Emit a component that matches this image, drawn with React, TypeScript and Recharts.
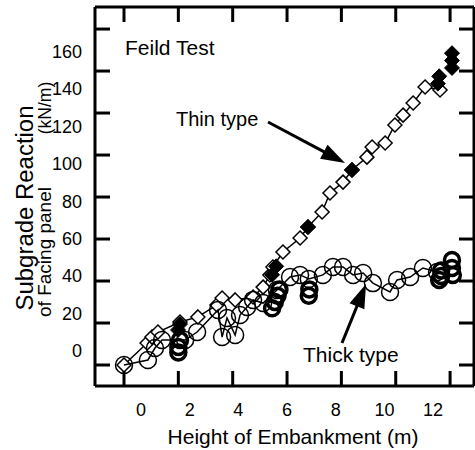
import React from 'react';
import { ScatterChart, Scatter, XAxis, YAxis } from 'recharts';

const FONT = '"Liberation Sans", Arial, Helvetica, sans-serif';

// Tick values
const xTicks = [0, 2, 4, 6, 8, 10, 12];
const yTicks = [0, 20, 40, 60, 80, 100, 120, 140, 160];

// Thin type (open diamonds, connected)
const thinX = [0, 0.85, 1.03, 1.25, 2.06, 2.72, 3.42, 3.61, 4.09, 4.75, 5.12, 5.37, 5.48, 5.85, 6.48, 6.77, 7.29, 7.58, 8.06, 8.39, 8.94, 9.13, 9.61, 9.97, 10.27, 10.64, 11.08, 11.63];
const thinY = [0, 10.5, 13.3, 15.7, 20.5, 22.9, 28.6, 31.9, 31.0, 32.4, 37.1, 42.9, 46.7, 53.8, 60.5, 65.7, 72.9, 81.9, 87.1, 92.9, 99.0, 103.8, 105.7, 114.3, 119.0, 124.8, 132.4, 131.0];

// Thin type (filled diamonds)
const thinBoldX = [1.99, 2.06, 5.45, 5.6, 6.77, 8.39, 11.55, 11.6, 12.07, 12.07, 12.07];
const thinBoldY = [16.7, 19.5, 43, 47, 65.7, 92.9, 134, 137.5, 141.5, 145, 148.5];

// Thick type (open circles, connected)
const thickX = [0, 0.88, 1.14, 1.4, 2.25, 2.69, 3.46, 3.61, 3.79, 4.09, 4.27, 4.53, 4.75, 5.12, 5.63, 6.11, 6.48, 6.8, 7.32, 7.69, 8.06, 8.43, 8.8, 9.16, 9.79, 10.05, 10.53, 11.0, 11.52];
const thickY = [0, 2.4, 8.1, 11.9, 11.9, 15.7, 26.2, 13.3, 22.4, 14.3, 23.8, 27.6, 31.0, 29.5, 35.7, 41.9, 42.9, 41.0, 42.9, 46.7, 46.7, 42.9, 43.8, 39.0, 34.8, 40.5, 41.9, 46.2, 44.3];

// Thick type (bold circles)
const thickBoldX = [2.0, 2.0, 2.06, 5.45, 5.55, 5.65, 5.72, 6.8, 6.82, 11.6, 11.67, 11.67, 12.07, 12.07, 12.1];
const thickBoldY = [6.0, 8.6, 11.9, 27, 30, 33, 36, 33, 36, 40.5, 42.4, 45, 50, 46.2, 42.9];

const zip = (xs: number[], ys: number[]) => xs.map((x, i) => ({ x, y: ys[i] }));
const thinData = zip(thinX, thinY);
const thinBoldData = zip(thinBoldX, thinBoldY);
const thickData = zip(thickX, thickY);
const thickBoldData = zip(thickBoldX, thickBoldY);

const diamondPath = (cx: number, cy: number, r: number) =>
  `M${cx},${cy - r}L${cx + r},${cy}L${cx},${cy + r}L${cx - r},${cy}Z`;

const OpenDiamond = (p: any) =>
  p.cx == null ? null : <path d={diamondPath(p.cx, p.cy, 7)} fill="#fff" stroke="#000" strokeWidth={1.5} />;
const FilledDiamond = (p: any) =>
  p.cx == null ? null : <path d={diamondPath(p.cx, p.cy, 7.5)} fill="#000" stroke="#000" strokeWidth={1} />;
const OpenCircle = (p: any) =>
  p.cx == null ? null : <circle cx={p.cx} cy={p.cy} r={8.5} fill="none" stroke="#000" strokeWidth={1.5} />;
const BoldCircle = (p: any) =>
  p.cx == null ? null : <circle cx={p.cx} cy={p.cy} r={7.5} fill="none" stroke="#000" strokeWidth={3.5} />;
const NoShape = () => null;

const TICK_LEN = 15;

const BottomTick = (p: any) => {
  const { x, y, payload } = p;
  const v = payload.value;
  return (
    <g>
      <line x1={x} y1={y} x2={x} y2={y - TICK_LEN} stroke="#000" strokeWidth={3} />
      <text x={x + 17 - (v * 34) / 12} y={y + 24} textAnchor="middle" dominantBaseline="central" fontSize={18} fontFamily={FONT} fill="#000">
        {v}
      </text>
    </g>
  );
};
const TopTick = (p: any) => {
  const { x, y } = p;
  return <line x1={x} y1={y} x2={x} y2={y + TICK_LEN} stroke="#000" strokeWidth={3} />;
};
const LeftTick = (p: any) => {
  const { x, y, payload } = p;
  const v = payload.value;
  return (
    <g>
      <line x1={x} y1={y} x2={x + TICK_LEN} y2={y} stroke="#000" strokeWidth={3} />
      <text x={x - 13} y={y - 14 + (v * 37) / 160} textAnchor="end" dominantBaseline="central" fontSize={18} fontFamily={FONT} fill="#000">
        {v}
      </text>
    </g>
  );
};
const RightTick = (p: any) => {
  const { x, y } = p;
  return <line x1={x} y1={y} x2={x - TICK_LEN} y2={y} stroke="#000" strokeWidth={3} />;
};

const arrow = (x1: number, y1: number, x2: number, y2: number, len = 24, half = 8) => {
  const dx = x2 - x1;
  const dy = y2 - y1;
  const d = Math.sqrt(dx * dx + dy * dy);
  const ux = dx / d;
  const uy = dy / d;
  const bx = x2 - ux * len;
  const by = y2 - uy * len;
  const pts = `${x2},${y2} ${bx - uy * half},${by + ux * half} ${bx + uy * half},${by - ux * half}`;
  return (
    <g>
      <line x1={x1} y1={y1} x2={bx + ux * 2} y2={by + uy * 2} stroke="#000" strokeWidth={3} />
      <polygon points={pts} fill="#000" />
    </g>
  );
};

const axisLine = { stroke: '#000', strokeWidth: 3 };
const X_DOMAIN: [number, number] = [-1.067, 12.88];
const Y_DOMAIN: [number, number] = [-10, 170.5];

export default function App() {
  return (
    <div style={{ position: 'absolute', left: 0, top: 0, width: 475, height: 450, background: '#fff' }}>
      <ScatterChart width={475} height={450} margin={{ top: 6, right: 0, left: 0, bottom: 0 }}>
        <XAxis
          xAxisId="b"
          dataKey="x"
          type="number"
          domain={X_DOMAIN}
          ticks={xTicks}
          allowDataOverflow
          orientation="bottom"
          height={64}
          axisLine={axisLine}
          tickLine={false}
          tickSize={0}
          tickMargin={0}
          tick={BottomTick}
          interval={0}
        />
        <XAxis
          xAxisId="t"
          dataKey="x"
          type="number"
          domain={X_DOMAIN}
          ticks={xTicks}
          allowDataOverflow
          orientation="top"
          height={1}
          axisLine={axisLine}
          tickLine={false}
          tickSize={0}
          tickMargin={0}
          tick={TopTick}
          interval={0}
        />
        <YAxis
          yAxisId="l"
          dataKey="y"
          type="number"
          domain={Y_DOMAIN}
          ticks={yTicks}
          allowDataOverflow
          orientation="left"
          width={95}
          axisLine={axisLine}
          tickLine={false}
          tickSize={0}
          tickMargin={0}
          tick={LeftTick}
          interval={0}
        />
        <YAxis
          yAxisId="r"
          dataKey="y"
          type="number"
          domain={Y_DOMAIN}
          ticks={yTicks}
          allowDataOverflow
          orientation="right"
          width={1}
          axisLine={axisLine}
          tickLine={false}
          tickSize={0}
          tickMargin={0}
          tick={RightTick}
          interval={0}
        />
        <Scatter
          xAxisId="b"
          yAxisId="l"
          data={thinData}
          line={{ stroke: '#000', strokeWidth: 1.5 }}
          lineType="joint"
          shape={OpenDiamond}
          isAnimationActive={false}
        />
        <Scatter
          xAxisId="b"
          yAxisId="l"
          data={thickData}
          line={{ stroke: '#000', strokeWidth: 1.5 }}
          lineType="joint"
          shape={OpenCircle}
          isAnimationActive={false}
        />
        <Scatter xAxisId="b" yAxisId="l" data={thinBoldData} shape={FilledDiamond} isAnimationActive={false} />
        <Scatter xAxisId="b" yAxisId="l" data={thickBoldData} shape={BoldCircle} isAnimationActive={false} />
        <Scatter xAxisId="t" yAxisId="r" data={thinData} shape={NoShape} isAnimationActive={false} />
      </ScatterChart>
      <svg width={475} height={450} style={{ position: 'absolute', left: 0, top: 0, pointerEvents: 'none' }}>
        <g fontFamily={FONT} fill="#000">
          <text x={125} y={55} fontSize={21}>Feild Test</text>
          <text x={176} y={126} fontSize={20}>Thin type</text>
          <text x={303} y={362} fontSize={21}>Thick type</text>
          <text x={293} y={444} fontSize={21} textAnchor="middle">Height of Embankment (m)</text>
          <text transform="translate(32.5,208) rotate(-90)" fontSize={23} textAnchor="middle" textLength={205} lengthAdjust="spacingAndGlyphs">
            Subgrade Reaction
          </text>
          <text transform="translate(50.5,252) rotate(-90)" fontSize={19} textAnchor="middle">
            of Facing panel
          </text>
          <text transform="translate(50.5,108) rotate(-90)" fontSize={17.5} textAnchor="middle">
            (kN/m)
          </text>
        </g>
        {arrow(268, 122, 345, 163)}
        {arrow(342, 343, 366, 284)}
      </svg>
    </div>
  );
}
